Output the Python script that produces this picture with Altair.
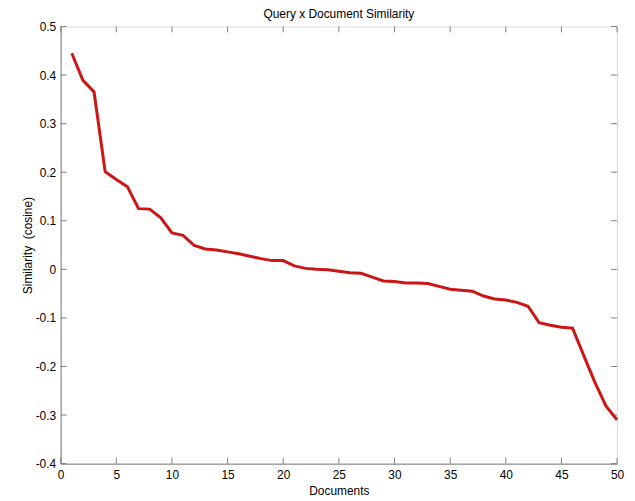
import altair as alt
import pandas as pd

docs = list(range(1, 51))
similarity = [
    0.445, 0.389, 0.365, 0.201, 0.185, 0.170, 0.125, 0.124, 0.106, 0.075,
    0.070, 0.049, 0.042, 0.040, 0.036, 0.032, 0.027, 0.022, 0.018, 0.018,
    0.007, 0.002, 0.000, -0.001, -0.004, -0.007, -0.008, -0.016, -0.024, -0.025,
    -0.028, -0.028, -0.029, -0.035, -0.041, -0.043, -0.045, -0.055, -0.061, -0.063,
    -0.068, -0.076, -0.110, -0.115, -0.119, -0.121, -0.177, -0.232, -0.281, -0.310,
]
x_ticks = [0, 5, 10, 15, 20, 25, 30, 35, 40, 45, 50]
y_ticks = [-0.4, -0.3, -0.2, -0.1, 0.0, 0.1, 0.2, 0.3, 0.4, 0.5]

df = pd.DataFrame({"doc": docs, "sim": similarity})
xt = pd.DataFrame({"t": x_ticks})
yt = pd.DataFrame({"t": y_ticks})

FONT = "Liberation Sans"
GRAY = "#7f7f7f"
W, H = 560, 440

xscale = alt.Scale(domain=[0, 50], nice=False, zero=False)
yscale = alt.Scale(domain=[-0.4, 0.5], nice=False, zero=False)

line = alt.Chart(df).mark_line(color="#cc1515", strokeWidth=3).encode(
    x=alt.X("doc:Q", scale=xscale, title="Documents",
            axis=alt.Axis(values=x_ticks, tickSize=0, labelPadding=6, grid=False,
                          domainColor=GRAY, labelFont=FONT, labelFontSize=12,
                          labelColor="#000", titleFont=FONT, titleFontSize=12,
                          titleFontWeight="normal", titleColor="#000", titlePadding=5,
                          labelFlush=False)),
    y=alt.Y("sim:Q", scale=yscale, title="Similarity\u00a0\u00a0(cosine)",
            axis=alt.Axis(values=y_ticks, tickSize=0, labelPadding=5, grid=False,
                          domainColor=GRAY, labelFont=FONT, labelFontSize=12,
                          labelColor="#000", titleFont=FONT, titleFontSize=12,
                          titleFontWeight="normal", titleColor="#000", titlePadding=1,
                          labelFlush=False,
                          labelExpr="toString(round(datum.value*10)/10)")),
)

xb = alt.Chart(xt).mark_rule(color=GRAY).encode(
    x=alt.X("t:Q", scale=xscale), y=alt.value(H), y2=alt.value(H - 6))
xtop = alt.Chart(xt).mark_rule(color=GRAY).encode(
    x=alt.X("t:Q", scale=xscale), y=alt.value(0), y2=alt.value(6))
yl = alt.Chart(yt).mark_rule(color=GRAY).encode(
    y=alt.Y("t:Q", scale=yscale), x=alt.value(0), x2=alt.value(6))
yr = alt.Chart(yt).mark_rule(color=GRAY).encode(
    y=alt.Y("t:Q", scale=yscale), x=alt.value(W), x2=alt.value(W - 6))

chart = alt.layer(xb, xtop, yl, yr, line).properties(
    width=W, height=H,
    title=alt.TitleParams("Query x Document Similarity", font=FONT, fontSize=12,
                          fontWeight="normal", color="#000", offset=0, frame="group"),
    autosize=alt.AutoSizeParams(type="none"),
    padding={"left": 53, "top": 17, "right": 10, "bottom": 36},
).configure_view(stroke=GRAY, strokeWidth=1).configure(background="white")

chart.save("out.html", embed_options={"renderer": "svg", "actions": False})
